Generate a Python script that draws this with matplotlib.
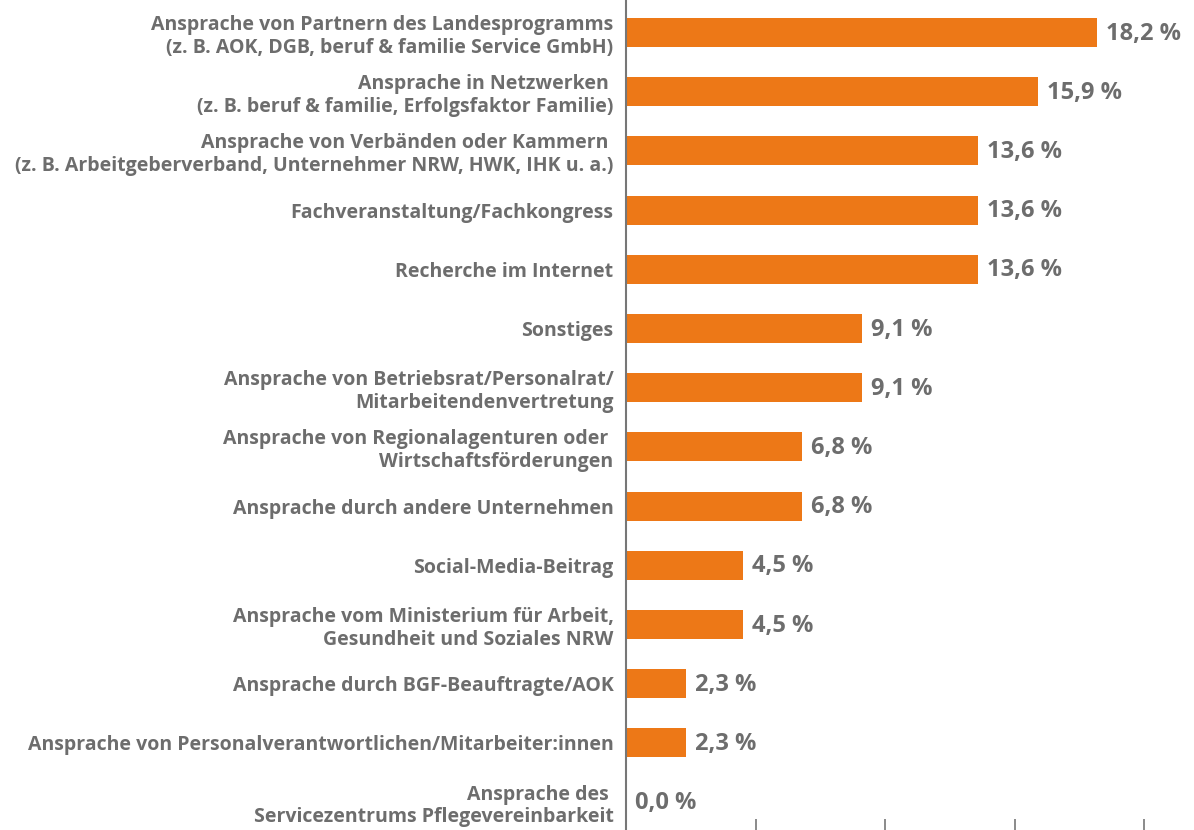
import matplotlib
matplotlib.use("Agg")
import matplotlib.pyplot as plt
from matplotlib.transforms import offset_copy

categories = [
    "Ansprache von Partnern des Landesprogramms\n(z. B. AOK, DGB, beruf & familie Service GmbH)",
    "Ansprache in Netzwerken \n(z. B. beruf & familie, Erfolgsfaktor Familie)",
    "Ansprache von Verbänden oder Kammern \n(z. B. Arbeitgeberverband, Unternehmer NRW, HWK, IHK u. a.)",
    "Fachveranstaltung/Fachkongress",
    "Recherche im Internet",
    "Sonstiges",
    "Ansprache von Betriebsrat/Personalrat/\nMitarbeitendenvertretung",
    "Ansprache von Regionalagenturen oder \nWirtschaftsförderungen",
    "Ansprache durch andere Unternehmen",
    "Social-Media-Beitrag",
    "Ansprache vom Ministerium für Arbeit,\nGesundheit und Soziales NRW",
    "Ansprache durch BGF-Beauftragte/AOK",
    "Ansprache von Personalverantwortlichen/Mitarbeiter:innen",
    "Ansprache des \nServicezentrums Pflegevereinbarkeit",
]
values = [18.2, 15.9, 13.6, 13.6, 13.6, 9.1, 9.1, 6.8, 6.8, 4.5, 4.5, 2.3, 2.3, 0.0]
xticks = [0, 5, 10, 15, 20]

plt.rcParams['font.family'] = ['Open Sans', 'DejaVu Sans']
TEXT = "#6d6d6d"
ORANGE = "#ED7817"

fig = plt.figure(figsize=(11.94, 8.30), dpi=100)
ax = fig.add_axes([626/1194, 0.0, 1 - 626/1194, 1.0])

pos = list(range(len(categories)))
ax.barh(pos, values, height=0.49, color=ORANGE)

ax.set_xlim(0, 21.93)
ax.set_ylim(13.47, -0.55)

ax.set_yticks(pos)
ax.set_yticklabels(categories, fontsize=14.0, fontweight='bold', color=TEXT)
for t in ax.get_yticklabels():
    t.set_linespacing(1.18)
    t.set_multialignment('right')
ax.tick_params(axis='y', length=0, pad=9)

ax.set_xticks(xticks)
ax.set_xticklabels([])
ax.tick_params(axis='x', direction='in', length=8, width=1.2, color="#777777")

for s in ['top', 'right', 'bottom']:
    ax.spines[s].set_visible(False)
ax.spines['left'].set_color("#777777")
ax.spines['left'].set_linewidth(1.5)

for p, v in zip(pos, values):
    tr = offset_copy(ax.transData, fig=fig, x=9, y=-7, units='dots')
    ax.text(v, p, f"{v:.1f} %".replace('.', ','), transform=tr, ha='left', va='baseline',
            fontsize=17.0, fontweight='bold', color=TEXT)

fig.savefig("out.png", dpi=100)
